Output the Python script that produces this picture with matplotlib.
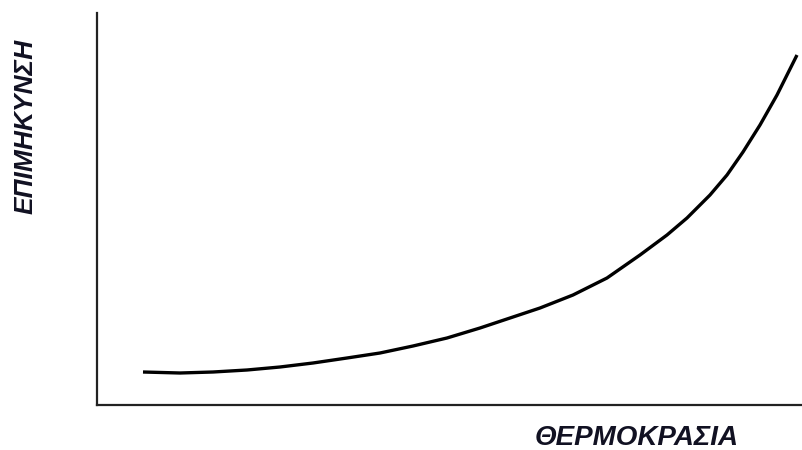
import matplotlib
matplotlib.use('Agg')
import matplotlib.pyplot as plt

# curve (arbitrary units: temperature vs elongation)
temperature = [46, 83, 116, 150, 183, 216, 250, 283, 316, 350, 383, 416,
               443, 476, 510, 543, 570, 590, 613, 630, 646, 663, 680, 700]
elongation = [33, 32, 33, 35, 38, 42, 47, 52, 59, 67, 77, 88,
              97, 110, 127, 150, 170, 187, 210, 230, 253, 280, 310, 350]

x_label = 'ΘΕΡΜΟΚΡΑΣΙΑ'
y_label = 'ΕΠΙΜΗΚΥΝΣΗ'

fig = plt.figure(figsize=(8.02, 4.5), dpi=100)
ax = fig.add_axes([97 / 802, 45 / 450, 705 / 802, 392 / 450])
ax.plot(temperature, elongation, color='black', lw=2.4,
        solid_capstyle='butt', solid_joinstyle='round')
ax.set_xlim(0, 705)
ax.set_ylim(0, 392)
ax.set_xticks([])
ax.set_yticks([])
for s in ['top', 'right']:
    ax.spines[s].set_visible(False)
for s in ['left', 'bottom']:
    ax.spines[s].set_linewidth(1.6)
    ax.spines[s].set_color('#222222')

fig.text(637 / 802, 1 - 445 / 450, x_label, ha='center', va='baseline',
         fontsize=20, fontweight='bold', fontstyle='italic',
         family=['Liberation Sans', 'DejaVu Sans'], color='#111122')
fig.text(26 / 802, 1 - 126 / 450, y_label, ha='center', va='center', rotation=90,
         fontsize=19, fontweight='bold', fontstyle='italic',
         family=['Liberation Sans', 'DejaVu Sans'], color='#111122')

fig.savefig('out.png', dpi=100)
